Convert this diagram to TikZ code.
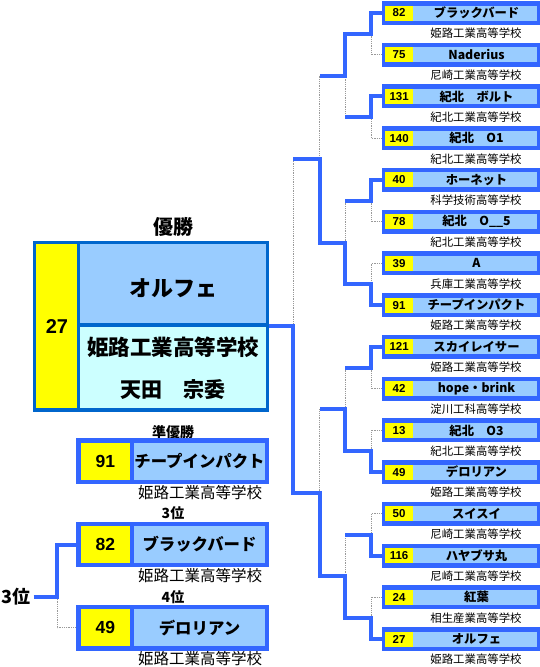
\documentclass[tikz,border=0pt]{standalone}
\usepackage{fontspec}
\setmainfont{Noto Sans CJK JP}
\newfontfamily\numfont{Liberation Sans}
\definecolor{brblue}{HTML}{3366FF}
\definecolor{chblue}{HTML}{0066CC}
\definecolor{lblue}{HTML}{99CCFF}
\definecolor{lcyan}{HTML}{CCFFFF}
\definecolor{ylw}{HTML}{FFFF00}
\definecolor{dotgray}{HTML}{999999}
\tikzset{
  rframe/.style={fill=brblue, draw=none, minimum width=158.3pt, minimum height=24pt, inner sep=0pt, outer sep=0pt},
  rnum/.style={fill=ylw, minimum width=27.8pt, minimum height=15pt, inner sep=0pt, font=\numfont\bfseries\fontsize{11.5}{11.5}\selectfont},
  rname/.style={fill=lblue, minimum width=124pt, minimum height=15pt, inner sep=0pt},
  rnametxt/.style={inner sep=0pt, font=\bfseries\fontsize{12.3}{12.5}\selectfont},
  rschool/.style={inner sep=0pt, font=\fontsize{11.4}{11.5}\selectfont},
  lframe/.style={fill=brblue, draw=none, minimum width=193pt, minimum height=45.7pt, inner sep=0pt, outer sep=0pt},
  lnum/.style={fill=ylw, minimum width=49.3pt, minimum height=37.3pt, inner sep=0pt, font=\numfont\bfseries\fontsize{17.5}{17.5}\selectfont},
  lname/.style={fill=lblue, minimum width=131pt, minimum height=37.3pt, inner sep=0pt, font=\bfseries\fontsize{16.4}{16.5}\selectfont},
  lschool/.style={inner sep=0pt, font=\fontsize{15.5}{16}\selectfont},
  ltitle/.style={inner sep=0pt, font=\bfseries\fontsize{14}{14}\selectfont},
  win/.style={draw=brblue, line width=4pt},
  lose/.style={draw=dotgray, line width=1pt, dash pattern=on 1pt off 0.8pt},
}
\begin{document}
\begin{tikzpicture}[x=1pt,y=-1pt]
\useasboundingbox (0,0) rectangle (540,667);
\fill[white] (0,0) rectangle (540,667);

% right-hand entrants
\foreach \ii/\vn/\vt/\vs in {
1/82/ブラックバード/姫路工業高等学校,
2/75/Naderius/尼崎工業高等学校,
3/131/紀北　ボルト/紀北工業高等学校,
4/140/紀北　O1/紀北工業高等学校,
5/40/ホーネット/科学技術高等学校,
6/78/紀北　O\_\_5/紀北工業高等学校,
7/39/A/兵庫工業高等学校,
8/91/チープインパクト/姫路工業高等学校,
9/121/スカイレイサー/姫路工業高等学校,
10/42/hope・brink/淀川工科高等学校,
11/13/紀北　O3/紀北工業高等学校,
12/49/デロリアン/姫路工業高等学校,
13/50/スイスイ/尼崎工業高等学校,
14/116/ハヤブサ丸/尼崎工業高等学校,
15/24/紅葉/相生産業高等学校,
16/27/オルフェ/姫路工業高等学校}{
  \pgfmathsetmacro\yy{13+(\ii-1)*41.733}
  \node[rframe] (b\ii) at (460.85,\yy) {};
  \node[rnum] (n\ii) at (399.1,\yy) {\vn};
  \node[rname] (a\ii) at (475,\yy) {};
  \node[rnametxt] (t\ii) at (476.5,\yy) {\vt};
  \node[rschool] (s\ii) at (476,\yy+20.5) {\vs};
}

% bracket joints
\coordinate (J1-1) at (371,33.87);  \coordinate (K1-1) at (345,33.87);
\coordinate (J1-2) at (371,117.33); \coordinate (K1-2) at (345,117.33);
\coordinate (J1-3) at (371,200.8);  \coordinate (K1-3) at (345,200.8);
\coordinate (J1-4) at (371,284.27); \coordinate (K1-4) at (345,284.27);
\coordinate (J1-5) at (371,367.73); \coordinate (K1-5) at (345,367.73);
\coordinate (J1-6) at (371,451.2);  \coordinate (K1-6) at (345,451.2);
\coordinate (J1-7) at (371,534.67); \coordinate (K1-7) at (345,534.67);
\coordinate (J1-8) at (371,618.13); \coordinate (K1-8) at (345,618.13);
\coordinate (J2-1) at (345,75.6);   \coordinate (K2-1) at (319.5,75.6);
\coordinate (J2-2) at (345,242.53); \coordinate (K2-2) at (319.5,242.53);
\coordinate (J2-3) at (345,409.47); \coordinate (K2-3) at (319.5,409.47);
\coordinate (J2-4) at (345,576.4);  \coordinate (K2-4) at (319.5,576.4);
\coordinate (J3-1) at (319.5,159.07); \coordinate (K3-1) at (293,159.07);
\coordinate (J3-2) at (319.5,492.93); \coordinate (K3-2) at (293,492.93);
\coordinate (JF) at (293,326.2);

% champion box
\node[fill=chblue, minimum width=236.3pt, minimum height=171pt, inner sep=0pt, outer sep=0pt] (champ) at (150.85,326.2) {};
\node[fill=ylw, minimum width=40.8pt, minimum height=164pt, inner sep=0pt] (cnum) at (56.6,326.2) {};
\node[fill=lblue, minimum width=185.5pt, minimum height=78.8pt, inner sep=0pt] (cname) at (172.75,283.6) {};
\node[fill=lcyan, minimum width=185.5pt, minimum height=81.4pt, inner sep=0pt] (cinfo) at (172.75,367.5) {};
\node[inner sep=0pt, font=\numfont\bfseries\fontsize{20}{20}\selectfont] (cnumt) at (57,327) {27};
\node[inner sep=0pt, font=\bfseries\fontsize{22}{22}\selectfont] (cnamet) at (173,288) {オルフェ};
\node[inner sep=0pt, font=\bfseries\fontsize{21.5}{22}\selectfont] (cschool) at (173,347) {姫路工業高等学校};
\node[inner sep=0pt, font=\bfseries\fontsize{21}{22}\selectfont] (cperson) at (173,390) {天田　宗委};
\node[inner sep=0pt, font=\bfseries\fontsize{20}{20}\selectfont] (ctitle) at (173,227) {優勝};

% losing lines (gray dotted)
\draw[lose] (b2.west) -| (J1-1);
\draw[lose] (b4.west) -| (J1-2);
\draw[lose] (b6.west) -| (J1-3);
\draw[lose] (b7.west) -| (J1-4);
\draw[lose] (b10.west) -| (J1-5);
\draw[lose] (b11.west) -| (J1-6);
\draw[lose] (b13.west) -| (J1-7);
\draw[lose] (b15.west) -| (J1-8);
\draw[lose] (K1-2) -- (J2-1);
\draw[lose] (K1-3) -- (J2-2);
\draw[lose] (K1-5) -- (J2-3);
\draw[lose] (K1-7) -- (J2-4);
\draw[lose] (K2-1) -- (J3-1);
\draw[lose] (K2-3) -- (J3-2);
\draw[lose] (K3-1) -- (JF);

% winning lines (blue)
\draw[win] (b1.west) -| (J1-1) -- (K1-1) -- (J2-1) -- (K2-1);
\draw[win] (b3.west) -| (J1-2) -- (K1-2);
\draw[win] (b5.west) -| (J1-3) -- (K1-3);
\draw[win] (b8.west) -| (J1-4) -- (K1-4) -- (J2-2) -- (K2-2) -- (J3-1) -- (K3-1);
\draw[win] (b9.west) -| (J1-5) -- (K1-5);
\draw[win] (b12.west) -| (J1-6) -- (K1-6) -- (J2-3) -- (K2-3);
\draw[win] (b14.west) -| (J1-7) -- (K1-7);
\draw[win] (b16.west) -| (J1-8) -- (K1-8) -- (J2-4) -- (K2-4) -- (J3-2) -- (K3-2) -- (JF) -- (champ.east |- JF);

% lower-left placings
\node[ltitle] (t2nd) at (173,432) {準優勝};
\node[lframe] (p1) at (172.5,461.2) {};
\node[lnum] (p1n) at (105.35,461.2) {91};
\node[lname] (p1t) at (199.5,461.2) {チープインパクト};
\node[lschool] (p1s) at (200,492.5) {姫路工業高等学校};

\node[ltitle] (t3rd) at (173,513) {3位};
\node[lframe] (p2) at (172.5,544.5) {};
\node[lnum] (p2n) at (105.35,544.5) {82};
\node[lname] (p2t) at (199.5,544.5) {ブラックバード};
\node[lschool] (p2s) at (200,575.8) {姫路工業高等学校};

\node[ltitle] (t4th) at (173,597) {4位};
\node[lframe] (p3) at (172.5,627.8) {};
\node[lnum] (p3n) at (105.35,627.8) {49};
\node[lname] (p3t) at (199.5,627.8) {デロリアン};
\node[lschool] (p3s) at (200,659) {姫路工業高等学校};

\node[inner sep=0pt, font=\bfseries\fontsize{18}{18}\selectfont] (third) at (16,597) {3位};
\coordinate (tj) at (57,597);
\draw[lose] (tj) |- (p3.west);
\draw[win] (third.east) ++(3,0) -- (tj) |- (p2.west);
\end{tikzpicture}
\end{document}
